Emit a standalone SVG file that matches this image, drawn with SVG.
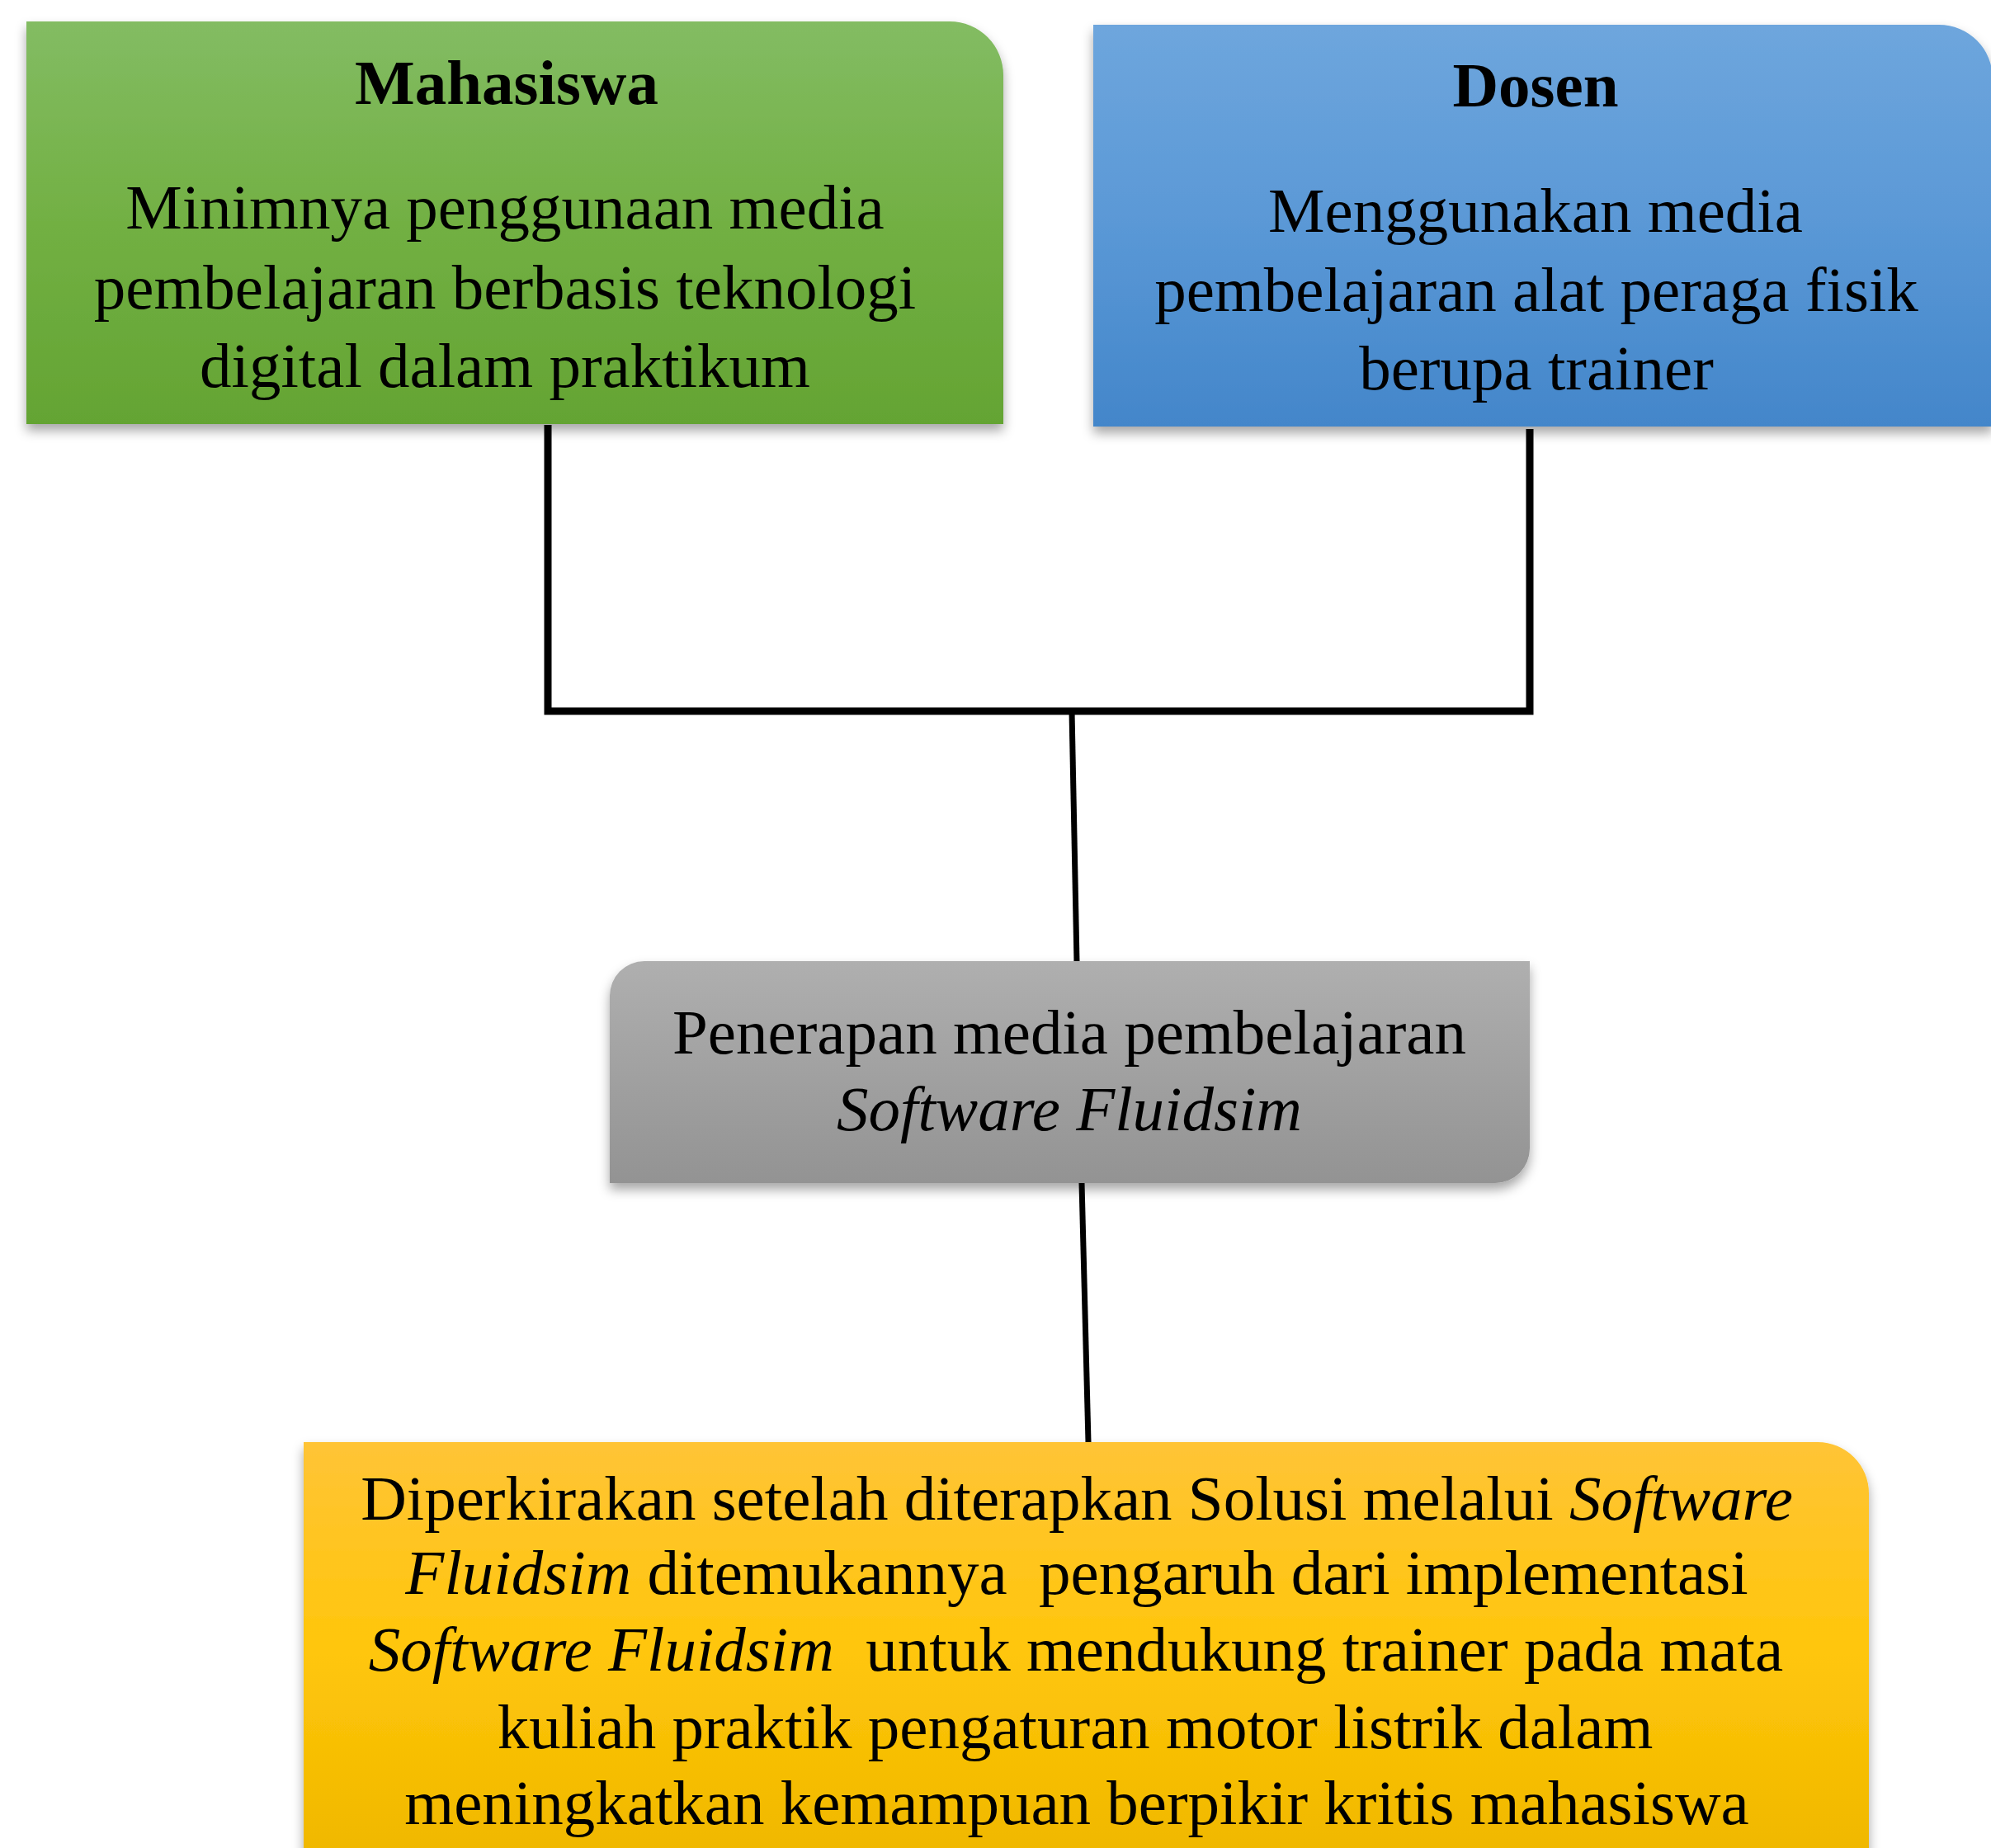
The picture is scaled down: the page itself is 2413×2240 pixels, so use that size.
<svg xmlns="http://www.w3.org/2000/svg" width="2413" height="2240" viewBox="0 0 2413 2240">
<defs>
<linearGradient id="gGreen" x1="0" y1="0" x2="0" y2="1"><stop offset="0" stop-color="#83BC63"/><stop offset="0.5" stop-color="#72B043"/><stop offset="1" stop-color="#64A433"/></linearGradient>
<linearGradient id="gBlue" x1="0" y1="0" x2="0" y2="1"><stop offset="0" stop-color="#6EA6DD"/><stop offset="0.5" stop-color="#5A98D6"/><stop offset="1" stop-color="#4386CA"/></linearGradient>
<linearGradient id="gGray" x1="0" y1="0" x2="0" y2="1"><stop offset="0" stop-color="#AFAFAF"/><stop offset="1" stop-color="#939393"/></linearGradient>
<linearGradient id="gYellow" x1="0" y1="0" x2="0" y2="1"><stop offset="0" stop-color="#FFC436"/><stop offset="0.5" stop-color="#FFC60A"/><stop offset="1" stop-color="#EFB700"/></linearGradient>
<filter id="shadow" x="-5%" y="-5%" width="110%" height="115%"><feDropShadow dx="0" dy="8" stdDeviation="7" flood-color="#000" flood-opacity="0.35"/></filter>
</defs>
<style>
text{font-family:"Liberation Serif","Times New Roman",serif;font-size:77px;fill:#000;text-anchor:middle}
.b{font-weight:bold}
.i{font-style:italic}
.pre{white-space:pre}
.conn{stroke:#000;fill:none}
</style>
<g id="connectors">
<polyline class="conn" stroke-width="9" points="664,515 664,862 1854,862 1854,520"/>
<line class="conn" stroke-width="7" x1="1299" y1="862" x2="1305" y2="1166"/>
<line class="conn" stroke-width="7" x1="1311" y1="1434" x2="1319" y2="1748"/>
</g>
<g id="mahasiswa">
<path d="M32,26 H1151 A65,65 0 0 1 1216,91 V514 H32 Z" fill="url(#gGreen)" filter="url(#shadow)"/>
<text class="b" x="614" y="126">Mahasiswa</text>
<text x="612" y="277">Minimnya penggunaan media</text>
<text x="612" y="374">pembelajaran berbasis teknologi</text>
<text x="612" y="469">digital dalam praktikum</text>
</g>
<g id="dosen">
<path d="M1325,30 H2350 A65,65 0 0 1 2415,95 V517 H1325 Z" fill="url(#gBlue)" filter="url(#shadow)"/>
<text class="b" x="1861" y="129">Dosen</text>
<text x="1861" y="281">Menggunakan media</text>
<text x="1862" y="377">pembelajaran alat peraga fisik</text>
<text x="1862" y="472">berupa trainer</text>
</g>
<g id="penerapan">
<path d="M781,1165 H1854 V1392 A42,42 0 0 1 1812,1434 H739 V1207 A42,42 0 0 1 781,1165 Z" fill="url(#gGray)" filter="url(#shadow)"/>
<text x="1296" y="1277">Penerapan media pembelajaran</text>
<text class="i" x="1296" y="1370">Software Fluidsim</text>
</g>
<g id="hasil">
<path d="M368,1748 H2203 A62,62 0 0 1 2265,1810 V2260 H368 Z" fill="url(#gYellow)" filter="url(#shadow)"/>
<text x="1305" y="1842">Diperkirakan setelah diterapkan Solusi melalui <tspan class="i">Software</tspan></text>
<text class="pre" x="1305" y="1932"><tspan class="i">Fluidsim</tspan> ditemukannya  pengaruh dari implementasi</text>
<text class="pre" x="1304" y="2025"><tspan class="i">Software Fluidsim</tspan>  untuk mendukung trainer pada mata</text>
<text x="1303" y="2119">kuliah praktik pengaturan motor listrik dalam</text>
<text x="1305" y="2211">meningkatkan kemampuan berpikir kritis mahasiswa</text>
</g>
</svg>
